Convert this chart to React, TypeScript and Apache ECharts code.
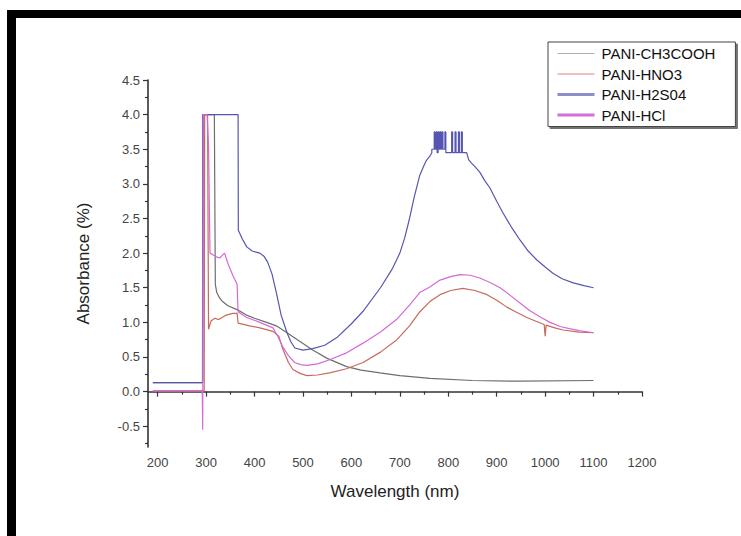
import React, { useEffect, useRef } from "react";
import * as echarts from "echarts";

const seriesNames = ["PANI-CH3COOH", "PANI-HNO3", "PANI-H2S04", "PANI-HCl"];
const seriesColors = ["#6e6e6e", "#c66a5c", "#5656b2", "#d46ad6"];
const legendColors = ["#b0b0b0", "#e08080", "#8e8ecc", "#d070d8"];
const legendWidths = [1, 1, 3, 3];

const yLabelValues = [-0.5, 0, 0.5, 1, 1.5, 2, 2.5, 3, 3.5, 4, 4.5];
const yMinorValues = [-0.75, -0.25, 0.25, 0.75, 1.25, 1.75, 2.25, 2.75, 3.25, 3.75, 4.25];
const xLabelValues = [200, 300, 400, 500, 600, 700, 800, 900, 1000, 1100, 1200];
const xMinorValues = [250, 350, 450, 550, 650, 750, 850, 950, 1050, 1150];

const ch3cooh: [number, number][] = [
  [190, 0.13], [293, 0.13], [294, 4.0], [317, 4.0], [319, 1.55], [322, 1.43], [328, 1.35],
  [334, 1.3], [345, 1.24], [365, 1.18], [385, 1.1], [400, 1.06], [425, 1.0], [445, 0.95],
  [467, 0.85], [490, 0.74], [520, 0.6], [550, 0.48], [590, 0.36], [620, 0.31], [659, 0.27],
  [700, 0.23], [762, 0.19], [850, 0.16], [950, 0.15], [1100, 0.16],
];

const hno3: [number, number][] = [
  [190, 0.01], [296, 0.01], [297, 4.0], [303, 4.0], [305, 0.9], [310, 1.02], [318, 1.06],
  [326, 1.04], [340, 1.1], [355, 1.13], [364, 1.13], [366, 0.99], [390, 0.95], [411, 0.92],
  [438, 0.87], [450, 0.8], [458, 0.62], [470, 0.42], [479, 0.32], [495, 0.26], [508, 0.23],
  [530, 0.24], [555, 0.27], [590, 0.33], [624, 0.42], [660, 0.57], [694, 0.75], [720, 0.95],
  [741, 1.15], [762, 1.3], [783, 1.4], [805, 1.46], [830, 1.49], [855, 1.46], [880, 1.4],
  [900, 1.32], [921, 1.22], [940, 1.15], [962, 1.07], [980, 1.02], [998, 0.97], [1000, 0.8],
  [1002, 0.96], [1020, 0.92], [1037, 0.89], [1070, 0.86], [1100, 0.85],
];

const h2so4: [number, number][] = [
  [190, 0.13], [292.5, 0.13], [293, 4.0], [366, 4.0], [366.5, 2.33], [375, 2.2], [384, 2.09],
  [395, 2.03], [411, 2.0], [420, 1.95], [427, 1.87], [436, 1.7], [445, 1.43], [455, 1.1],
  [467, 0.85], [475, 0.72], [483, 0.63], [500, 0.6], [520, 0.62], [545, 0.67], [570, 0.78],
  [600, 0.98], [624, 1.16], [660, 1.5], [685, 1.78], [700, 2.0], [710, 2.22], [720, 2.5],
  [730, 2.82], [741, 3.12], [750, 3.27], [755, 3.34], [762, 3.4], [766, 3.45], [766, 3.5],
  [771, 3.5], [771, 3.75], [772.5, 3.75], [772.5, 3.5], [775, 3.5], [775, 3.75], [777, 3.75],
  [777, 3.45], [779, 3.45], [779, 3.75], [781, 3.75], [781, 3.5], [783, 3.5], [783, 3.75],
  [785, 3.75], [785, 3.5], [787, 3.5], [787, 3.75], [789, 3.75], [789, 3.5], [793, 3.5],
  [793, 3.75], [795, 3.75], [795, 3.45], [807, 3.45], [807, 3.75], [809, 3.75], [809, 3.45],
  [814, 3.45], [814, 3.75], [816, 3.75], [816, 3.45], [821, 3.45], [821, 3.75], [823, 3.75],
  [823, 3.45], [827, 3.45], [827, 3.75], [829, 3.75], [829, 3.45], [838, 3.45], [842, 3.35],
  [848, 3.3], [855, 3.25], [865, 3.17], [875, 3.05], [886, 2.94], [900, 2.75], [913, 2.58],
  [930, 2.38], [948, 2.19], [965, 2.03], [983, 1.9], [1000, 1.8], [1016, 1.71], [1035, 1.63],
  [1058, 1.57], [1080, 1.53], [1100, 1.5],
];

const hcl: [number, number][] = [
  [190, 0.01], [292, 0.01], [293, -0.55], [294, 4.0], [302, 4.0], [305, 3.55], [308, 2.0],
  [320, 1.95], [328, 1.93], [338, 2.0], [345, 1.85], [355, 1.68], [364, 1.55], [366, 1.15],
  [384, 1.07], [411, 1.0], [438, 0.92], [448, 0.8], [458, 0.65], [470, 0.52], [483, 0.42],
  [495, 0.39], [508, 0.38], [530, 0.4], [555, 0.46], [590, 0.56], [624, 0.7], [660, 0.86],
  [693, 1.04], [720, 1.25], [741, 1.43], [762, 1.51], [783, 1.61], [805, 1.66], [824, 1.69],
  [845, 1.68], [865, 1.64], [885, 1.58], [907, 1.5], [928, 1.39], [948, 1.28], [968, 1.17],
  [989, 1.08], [1010, 1.0], [1031, 0.94], [1050, 0.91], [1070, 0.88], [1100, 0.85],
];

const seriesData = [ch3cooh, hno3, h2so4, hcl];

const FONT = "'Liberation Sans', Arial, sans-serif";

export default function App() {
  const ref = useRef<HTMLDivElement>(null);
  useEffect(() => {
    if (!ref.current) return;
    const chart = echarts.init(ref.current, undefined, { renderer: "svg" });
    const axisCommon = {
      axisLine: { show: true, lineStyle: { color: "#333", width: 1.6 } },
      splitLine: { show: false },
    };
    chart.setOption({
      animation: false,
      backgroundColor: "#fff",
      textStyle: { fontFamily: FONT },
      grid: { left: 148, right: 99, top: 80, bottom: 89 },
      legend: {
        left: 548,
        top: 42,
        orient: "vertical",
        padding: [4, 20, 4, 8],
        itemWidth: 37,
        itemHeight: 14,
        itemGap: 5.5,
        backgroundColor: "#fff",
        borderColor: "#444",
        borderWidth: 1,
        shadowColor: "rgba(0,0,0,0.55)",
        shadowOffsetX: 2,
        shadowOffsetY: 2,
        shadowBlur: 0,
        textStyle: { fontSize: 15, color: "#111", fontFamily: FONT, padding: [0, 0, 0, 2] },
        data: seriesNames.map((n, i) => ({
          name: n,
          itemStyle: { opacity: 0 },
          lineStyle: { width: legendWidths[i], color: legendColors[i] },
        })),
      },
      xAxis: [
        {
          type: "value",
          min: 180,
          max: 1200,
          name: "Wavelength (nm)",
          nameLocation: "middle",
          nameGap: 36,
          nameTextStyle: { fontSize: 17, color: "#222", fontFamily: FONT },
          ...axisCommon,
          axisTick: { show: true, length: 5, lineStyle: { color: "#333", width: 1.2 }, customValues: xLabelValues },
          axisLabel: {
            fontSize: 13,
            color: "#444",
            margin: 9,
            customValues: xLabelValues,
            fontFamily: FONT,
            formatter: (v: number) => String(v),
          },
        },
        {
          type: "value",
          position: "bottom",
          min: 180,
          max: 1200,
          axisLine: { show: false },
          splitLine: { show: false },
          axisLabel: { show: false },
          axisTick: { show: true, length: 3, lineStyle: { color: "#333", width: 1.2 }, customValues: xMinorValues },
        },
      ],
      yAxis: [
        {
          type: "value",
          min: -0.8,
          max: 4.5,
          name: "Absorbance (%)",
          nameLocation: "middle",
          nameGap: 56,
          nameRotate: 90,
          nameTextStyle: { fontSize: 17, color: "#222", fontFamily: FONT },
          ...axisCommon,
          axisTick: { show: true, length: 5, lineStyle: { color: "#333", width: 1.2 }, customValues: yLabelValues },
          axisLabel: {
            fontSize: 13,
            color: "#444",
            margin: 8,
            customValues: yLabelValues,
            fontFamily: FONT,
            formatter: (v: number) => v.toFixed(1),
          },
        },
        {
          type: "value",
          position: "left",
          min: -0.8,
          max: 4.5,
          axisLine: { show: false },
          splitLine: { show: false },
          axisLabel: { show: false },
          axisTick: { show: true, length: 3, lineStyle: { color: "#333", width: 1.2 }, customValues: yMinorValues },
        },
      ],
      series: seriesNames.map((n, i) => ({
        name: n,
        type: "line",
        xAxisIndex: 0,
        yAxisIndex: 0,
        data: seriesData[i],
        symbol: "none",
        color: seriesColors[i],
        lineStyle: { width: 1.2, color: seriesColors[i] },
      })),
      graphic: [
        { type: "rect", left: 7, top: 10, shape: { width: 734, height: 8 }, style: { fill: "#000" }, silent: true },
        { type: "rect", left: 7, top: 10, shape: { width: 9, height: 526 }, style: { fill: "#000" }, silent: true },
      ],
    });
    return () => chart.dispose();
  }, []);
  return (
    <div
      ref={ref}
      style={{ position: "fixed", left: 0, top: 0, width: 741, height: 536, background: "#fff" }}
    />
  );
}
